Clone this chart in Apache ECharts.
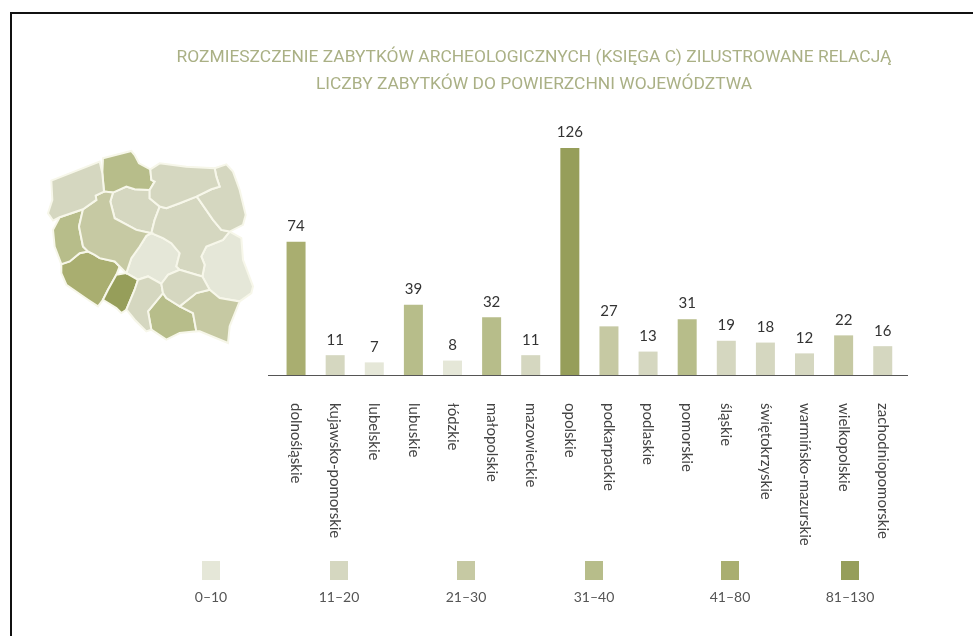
<!DOCTYPE html>
<html>
<head>
<meta charset="utf-8">
<style>
  html, body { margin: 0; padding: 0; background: #fff; }
  #chart { width: 973px; height: 636px; }
</style>
<script src="https://cdn.jsdelivr.net/npm/echarts@6/dist/echarts.min.js"></script>
</head>
<body>
<div id="chart"></div>
<script>
const regions = ["dolnośląskie", "kujawsko-pomorskie", "lubelskie", "lubuskie", "łódzkie", "małopolskie", "mazowieckie", "opolskie", "podkarpackie", "podlaskie", "pomorskie", "śląskie", "świętokrzyskie", "warmińsko-mazurskie", "wielkopolskie", "zachodniopomorskie"];
const counts = [74, 11, 7, 39, 8, 32, 11, 126, 27, 13, 31, 19, 18, 12, 22, 16];

const classLabels = ["0–10", "11–20", "21–30", "31–40", "41–80", "81–130"];
const classUpper = [10, 20, 30, 40, 80, 130];
const classColors = ["#e5e7d8", "#d5d7c0", "#c6c9a3", "#b7bd8a", "#a9ae70", "#969e5a"];

const outlines = {
  "pomorskie": [[250,85],[335,63],[345,75],[358,100],[392,118],[395,150],[405,155],[390,180],[345,178],[320,170],[280,188],[253,185],[248,130]],
  "zachodniopomorskie": [[95,152],[240,95],[248,130],[253,185],[228,197],[230,210],[190,238],[120,262],[100,272],[85,250],[98,210]],
  "kujawsko-pomorskie": [[280,188],[320,170],[345,178],[390,180],[390,205],[420,230],[405,270],[395,310],[350,300],[285,265],[272,215]],
  "warmińsko-mazurskie": [[392,118],[420,100],[500,110],[585,115],[590,140],[600,170],[575,178],[530,200],[480,220],[440,235],[420,230],[390,205],[390,180],[405,155],[395,150]],
  "podlaskie": [[585,115],[620,103],[640,125],[660,180],[678,255],[670,285],[630,305],[605,300],[580,270],[535,205],[530,200],[575,178],[600,170],[590,140]],
  "mazowieckie": [[420,230],[440,235],[480,220],[530,200],[535,205],[580,270],[605,300],[630,305],[610,330],[560,350],[545,380],[555,405],[548,440],[530,435],[480,420],[470,410],[480,370],[455,340],[430,325],[395,310],[405,270]],
  "lubelskie": [[630,305],[665,325],[670,390],[700,470],[695,490],[660,515],[600,505],[570,480],[548,440],[555,405],[545,380],[560,350],[610,330]],
  "łódzkie": [[380,318],[395,310],[430,325],[455,340],[480,370],[470,410],[480,420],[445,435],[425,462],[385,440],[355,450],[320,430],[335,385],[360,350]],
  "wielkopolskie": [[228,197],[253,185],[280,188],[272,215],[285,265],[350,300],[395,310],[380,318],[360,350],[335,385],[320,430],[300,410],[285,395],[240,385],[225,375],[205,365],[190,350],[178,290],[190,238],[230,210]],
  "lubuskie": [[120,262],[190,238],[178,290],[190,350],[205,365],[180,370],[150,395],[125,403],[105,350],[100,300]],
  "dolnośląskie": [[125,403],[150,395],[180,370],[205,365],[225,375],[240,385],[285,395],[300,410],[290,435],[265,480],[250,510],[235,530],[205,510],[140,465],[125,430]],
  "opolskie": [[290,435],[320,430],[355,450],[345,480],[320,540],[305,550],[290,535],[250,510],[265,480]],
  "śląskie": [[355,450],[385,440],[425,462],[430,490],[385,545],[395,600],[380,605],[345,570],[325,545],[320,540],[345,480]],
  "świętokrzyskie": [[445,435],[480,420],[530,435],[548,440],[570,480],[530,490],[480,530],[440,505],[430,490],[425,462]],
  "małopolskie": [[430,490],[440,505],[480,530],[520,550],[530,605],[480,610],[440,630],[395,600],[385,545]],
  "podkarpackie": [[480,530],[530,490],[570,480],[600,505],[660,515],[630,590],[625,640],[540,605],[530,605],[520,550]]
};

function colorFor(v) {
  const idx = classUpper.findIndex((u) => v <= u);
  return classColors[idx];
}

const geoJson = {
  type: "FeatureCollection",
  features: regions.map((name) => ({
    type: "Feature",
    properties: { name: name },
    geometry: {
      type: "Polygon",
      coordinates: [outlines[name].concat([outlines[name][0]]).map((p) => [p[0], -p[1]])],
    },
  })),
};
echarts.registerMap("polska", geoJson);

const FONT = "Lato, 'Open Sans', sans-serif";
const legendX = [211, 339, 466, 594, 730, 850];

const legendGraphics = [];
classLabels.forEach((label, i) => {
  legendGraphics.push({
    type: "rect",
    shape: { x: legendX[i] - 9, y: 561, width: 18, height: 19 },
    style: { fill: classColors[i] },
  });
  legendGraphics.push({
    type: "text",
    x: legendX[i],
    y: 597,
    style: { text: label, fill: "#555", font: "14px " + FONT, textAlign: "center", textVerticalAlign: "middle" },
  });
});

const chart = echarts.init(document.getElementById("chart"));
chart.setOption({
  animation: false,
  backgroundColor: "#fff",
  title: {
    text: "ROZMIESZCZENIE ZABYTKÓW ARCHEOLOGICZNYCH (KSIĘGA C) ZILUSTROWANE RELACJĄ\nLICZBY ZABYTKÓW DO POWIERZCHNI WOJEWÓDZTWA",
    left: 529,
    top: 39,
    textAlign: "center",
    textStyle: {
      fontFamily: "'Liberation Sans Narrow', 'Roboto', sans-serif",
      fontWeight: "normal",
      fontSize: 17.4,
      lineHeight: 27,
      color: "#aab085",
    },
  },
  grid: { left: 276.5, right: 70.7, top: 148, bottom: 261 },
  xAxis: {
    type: "category",
    data: regions,
    axisLine: { show: false },
    axisTick: { show: false },
    axisLabel: {
      rotate: -90,
      margin: 28,
      interval: 0,
      fontFamily: FONT,
      fontSize: 15,
      color: "#444",
    },
  },
  yAxis: { type: "value", min: 0, max: 126, show: false },
  series: [
    {
      type: "bar",
      barWidth: 19,
      data: counts.map((v) => ({ value: v, itemStyle: { color: colorFor(v) } })),
      label: {
        show: true,
        position: "top",
        distance: 8,
        fontFamily: FONT,
        fontSize: 15,
        color: "#333",
      },
    },
    {
      type: "map",
      map: "polska",
      aspectScale: 1,
      left: 48,
      top: 151,
      width: 205,
      height: 192,
      silent: true,
      label: { show: false },
      itemStyle: { borderColor: "#f7f7ea", borderWidth: 2 },
      data: regions.map((name, i) => ({ name: name, value: counts[i], itemStyle: { areaColor: colorFor(counts[i]) } })),
    },
  ],
  graphic: [
    { type: "rect", shape: { x: 268, y: 375, width: 640, height: 1 }, style: { fill: "#555" } },
    { type: "rect", shape: { x: 10, y: 12, width: 963, height: 2 }, style: { fill: "#111" } },
    { type: "rect", shape: { x: 10, y: 12, width: 2, height: 624 }, style: { fill: "#111" } },
  ].concat(legendGraphics),
});
</script>
</body>
</html>
